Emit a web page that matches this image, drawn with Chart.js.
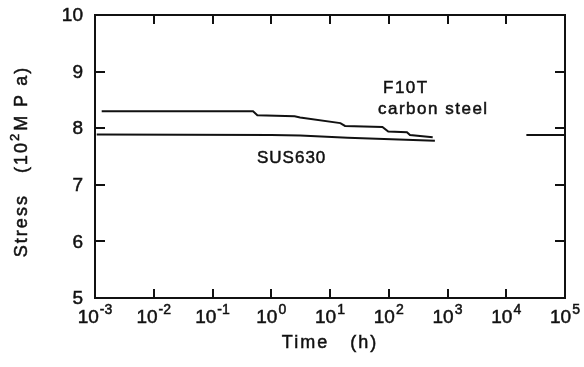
<!DOCTYPE html>
<html>
<head>
<meta charset="utf-8">
<script src="https://cdn.jsdelivr.net/npm/chart.js@4/dist/chart.umd.min.js"></script>
<style>
  html, body { margin: 0; padding: 0; background: #fff; }
  #wrap { width: 584px; height: 367px; }
</style>
</head>
<body>
<div id="wrap"><canvas id="chart" width="584" height="367"></canvas></div>
<script>
// decades on the time axis (exponents) and stress ticks (x10^2 MPa)
const timeExps    = [-3, -2, -1, 0, 1, 2, 3, 4, 5];
const stressTicks = [5, 6, 7, 8, 9, 10];

// F10T carbon steel – stepwise relaxation
const f10tTime   = [0.0013, 0.49, 0.58, 2.5, 3.1, 15, 18, 78, 98, 204, 230, 560];
const f10tStress = [8.30,   8.30, 8.23, 8.21, 8.19, 8.09, 8.04, 8.02, 7.94, 7.93, 7.88, 7.84];

// SUS630
const susTime   = [0.00107, 1, 3.1, 20, 610];
const susStress = [7.89,    7.88, 7.87, 7.83, 7.78];

// short segment at the right edge
const edgeTime   = [22000, 100000];
const edgeStress = [7.88, 7.88];

const FONT = "'Liberation Sans', Arial, sans-serif";
const INK  = "#111";

function pts(xs, ys) {
  return xs.map((x, i) => ({ x: x, y: ys[i] }));
}

// filled text with a hairline stroke so it reads as heavy as the scan
function ink(ctx, s, x, y) {
  ctx.fillText(s, x, y);
  ctx.strokeText(s, x, y);
}

// draws frame, inward ticks, tick labels with superscripts, titles, notes
const decorPlugin = {
  id: "decor",
  afterDraw(chart) {
    const ctx = chart.ctx;
    const a = chart.chartArea;
    const xs = chart.scales.x, ys = chart.scales.y;
    ctx.save();
    ctx.strokeStyle = INK;
    ctx.fillStyle = INK;
    ctx.lineWidth = 2;

    // top + right of the frame
    ctx.beginPath();
    ctx.moveTo(a.left, a.top); ctx.lineTo(a.right, a.top); ctx.lineTo(a.right, a.bottom);
    ctx.stroke();

    // inward ticks
    ctx.beginPath();
    timeExps.forEach(e => {
      const px = Math.round(xs.getPixelForValue(Math.pow(10, e)));
      if (px <= a.left + 1 || px >= a.right - 1) return;
      ctx.moveTo(px, a.bottom); ctx.lineTo(px, a.bottom - 9);
      ctx.moveTo(px, a.top);    ctx.lineTo(px, a.top + 9);
    });
    stressTicks.forEach(v => {
      const py = Math.round(ys.getPixelForValue(v));
      if (py <= a.top + 1 || py >= a.bottom - 1) return;
      ctx.moveTo(a.left, py);  ctx.lineTo(a.left + 10, py);
      ctx.moveTo(a.right, py); ctx.lineTo(a.right - 10, py);
    });
    ctx.stroke();

    ctx.lineWidth = 0.5;

    // y tick labels
    ctx.font = "19px " + FONT;
    ctx.textAlign = "right";
    ctx.textBaseline = "middle";
    stressTicks.forEach(v => {
      ink(ctx, String(v), a.left - 12, ys.getPixelForValue(v) + 1);
    });

    // x tick labels: 10 with superscript exponent
    ctx.textBaseline = "alphabetic";
    ctx.textAlign = "left";
    timeExps.forEach(e => {
      const px = xs.getPixelForValue(Math.pow(10, e));
      ctx.font = "19px " + FONT;
      const base = "10";
      const wb = ctx.measureText(base).width;
      ctx.font = "14px " + FONT;
      const sup = e < 0 ? "-" + Math.abs(e) : String(e);
      const ws = ctx.measureText(sup).width;
      const x0 = px - (wb + ws + 1) / 2;
      ctx.font = "19px " + FONT;
      ink(ctx, base, x0, a.bottom + 25);
      ctx.font = "14px " + FONT;
      ink(ctx, sup, x0 + wb + 1, a.bottom + 16);
    });

    // x title
    ctx.font = "18px " + FONT;
    ctx.letterSpacing = "2px";
    ctx.textAlign = "center";
    ink(ctx, "Time   (h)", (a.left + a.right) / 2, a.bottom + 50);

    // y title, rotated
    ctx.save();
    ctx.translate(27, 162);
    ctx.rotate(-Math.PI / 2);
    ctx.textAlign = "left";
    ctx.textBaseline = "alphabetic";
    const p1 = "Stress   (10", p2 = "2", p3 = "M P a)";
    ctx.font = "18px " + FONT;
    const w1 = ctx.measureText(p1).width;
    const w3 = ctx.measureText(p3).width;
    ctx.font = "13px " + FONT;
    const w2 = ctx.measureText(p2).width;
    const start = -(w1 + w2 + w3) / 2;
    ctx.font = "18px " + FONT;
    ink(ctx, p1, start, 0);
    ctx.font = "13px " + FONT;
    ink(ctx, p2, start + w1, -8);
    ctx.font = "18px " + FONT;
    ink(ctx, p3, start + w1 + w2 + 1, 0);
    ctx.restore();

    // curve notes
    ctx.font = "17px " + FONT;
    ctx.letterSpacing = "1.5px";
    ctx.textAlign = "left";
    ctx.textBaseline = "middle";
    ink(ctx, "F10T", 383, 88);
    ink(ctx, "carbon steel", 378, 109);
    ctx.letterSpacing = "1px";
    ink(ctx, "SUS630", 257, 158);
    ctx.restore();
  }
};

new Chart(document.getElementById("chart"), {
  type: "scatter",
  data: {
    datasets: [
      { label: "F10T carbon steel", data: pts(f10tTime, f10tStress) },
      { label: "SUS630", data: pts(susTime, susStress) },
      { label: "", data: pts(edgeTime, edgeStress) },
    ].map(d => Object.assign(d, {
      showLine: true,
      borderColor: INK,
      borderWidth: 2,
      pointRadius: 0,
      tension: 0,
    })),
  },
  options: {
    responsive: false,
    animation: false,
    layout: { padding: { left: 95, right: 19, top: 15, bottom: 69 } },
    plugins: { legend: { display: false }, tooltip: { enabled: false } },
    scales: {
      x: {
        type: "logarithmic",
        min: 1e-3,
        max: 1e5,
        ticks: { display: false },
        grid: { drawOnChartArea: false, drawTicks: false },
        border: { display: true, color: INK, width: 2 },
      },
      y: {
        type: "linear",
        min: 5,
        max: 10,
        ticks: { display: false },
        grid: { drawOnChartArea: false, drawTicks: false },
        border: { display: true, color: INK, width: 2 },
      },
    },
  },
  plugins: [decorPlugin],
});
</script>
</body>
</html>
